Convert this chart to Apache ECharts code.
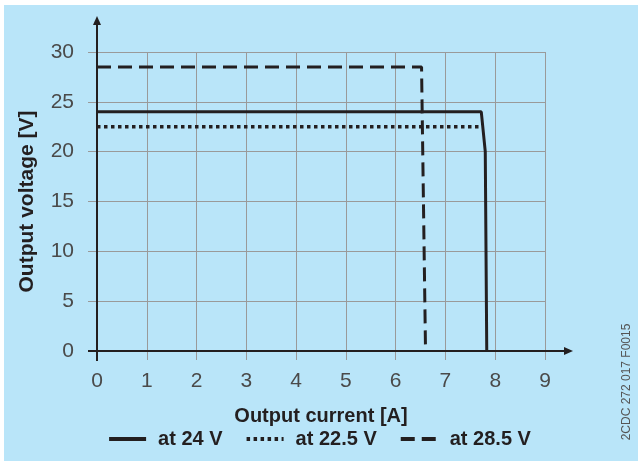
<!DOCTYPE html>
<html>
<head>
    <meta charset="utf-8" />
    <title>Output characteristic</title>
    <script src="https://cdn.jsdelivr.net/npm/echarts@6/dist/echarts.min.js"></script>
    <style>
        *{
            margin:0;
            padding:0;
        }
        body{
            background:#fff;
        }
        #main{
            width:638px;
            height:461px;
        }
    </style>
</head>
<body>
<div id="main"></div>
<script type="text/javascript">
    // data
    var seriesNames = ['at 24 V', 'at 22.5 V', 'at 28.5 V'];
    var line24 = [[0, 24], [7.72, 24], [7.8, 20], [7.83, 0]];
    var line225 = [[0, 22.5], [7.7, 22.5]];
    var line285 = [[0, 28.5], [6.52, 28.5], [6.6, 0]];
    var xTicks = [0, 9, 1];   // min, max, step
    var yTicks = [0, 30, 5];

    var ink = '#231f20';
    var gridGray = '#9a9a9a';
    var labelFont = 'Liberation Sans, Arial, sans-serif';

    var myChart = echarts.init(document.getElementById('main'));

    var option = {
        animation: false,
        backgroundColor: '#fff',
        grid: {left: 97, right: 93, top: 52, bottom: 110},
        legend: {
            bottom: 7,
            left: 'center',
            itemWidth: 37,
            itemHeight: 14,
            itemGap: 22,
            data: seriesNames,
            itemStyle: {opacity: 0},
            lineStyle: {width: 4},
            textStyle: {
                fontFamily: labelFont,
                fontSize: 20,
                fontWeight: 'bold',
                color: ink,
                padding: [0, 0, 0, 7]
            }
        },
        xAxis: {
            type: 'value',
            min: xTicks[0],
            max: xTicks[1],
            interval: xTicks[2],
            name: 'Output current [A]',
            nameLocation: 'middle',
            nameGap: 55,
            nameTextStyle: {fontFamily: labelFont, fontSize: 20, fontWeight: 'bold', color: ink},
            axisLine: {show: false},
            axisTick: {show: true, length: 9, lineStyle: {color: gridGray, width: 1}},
            axisLabel: {margin: 20, fontFamily: labelFont, fontSize: 21, color: '#4a4a4a'},
            splitLine: {show: true, lineStyle: {color: gridGray, width: 1}}
        },
        yAxis: {
            type: 'value',
            min: yTicks[0],
            max: yTicks[1],
            interval: yTicks[2],
            name: 'Output voltage [V]',
            nameLocation: 'middle',
            nameGap: 59,
            nameTextStyle: {fontFamily: labelFont, fontSize: 21, fontWeight: 'bold', color: ink},
            axisLine: {show: false},
            axisTick: {show: true, length: 9, lineStyle: {color: gridGray, width: 1}},
            axisLabel: {margin: 23, fontFamily: labelFont, fontSize: 21, color: '#4a4a4a'},
            splitLine: {show: true, lineStyle: {color: gridGray, width: 1}}
        },
        series: [{
            name: seriesNames[0],
            type: 'line',
            symbol: 'none',
            z: 4,
            lineStyle: {color: ink, width: 3, type: 'solid'},
            itemStyle: {color: ink},
            data: line24
        }, {
            name: seriesNames[1],
            type: 'line',
            symbol: 'none',
            z: 3,
            lineStyle: {color: ink, width: 3.5, type: [3.5, 3.5]},
            itemStyle: {color: ink},
            data: line225
        }, {
            name: seriesNames[2],
            type: 'line',
            symbol: 'none',
            z: 3,
            lineStyle: {color: ink, width: 3, type: [14, 7]},
            itemStyle: {color: ink},
            data: line285
        }]
    };

    myChart.setOption(option);

    // background panel, axis lines with arrows and the drawing code
    var o = myChart.convertToPixel({gridIndex: 0}, [xTicks[0], yTicks[0]]);
    var e = myChart.convertToPixel({gridIndex: 0}, [xTicks[1], yTicks[1]]);
    var xTip = e[0] + 28, yTip = e[1] - 36;
    myChart.setOption({
        graphic: [{
            type: 'rect',
            z: -10,
            silent: true,
            shape: {x: 4, y: 5, width: 640, height: 460},
            style: {fill: '#b9e5f9'}
        }, {
            type: 'line',
            z: 10,
            shape: {x1: o[0] - 9, y1: o[1], x2: xTip - 6, y2: o[1]},
            style: {stroke: ink, lineWidth: 2}
        }, {
            type: 'polygon',
            z: 10,
            shape: {points: [[xTip, o[1]], [xTip - 9, o[1] - 4], [xTip - 9, o[1] + 4]]},
            style: {fill: ink}
        }, {
            type: 'line',
            z: 10,
            shape: {x1: o[0], y1: o[1] + 10, x2: o[0], y2: yTip + 6},
            style: {stroke: ink, lineWidth: 2}
        }, {
            type: 'polygon',
            z: 10,
            shape: {points: [[o[0], yTip], [o[0] - 4, yTip + 9], [o[0] + 4, yTip + 9]]},
            style: {fill: ink}
        }, {
            type: 'text',
            z: 10,
            x: 627,
            y: 382,
            rotation: Math.PI / 2,
            style: {
                text: '2CDC 272 017 F0015',
                fontFamily: labelFont,
                fontSize: 12,
                fill: '#555',
                align: 'center',
                verticalAlign: 'middle'
            }
        }]
    });

    window.onresize = myChart.resize;
</script>
</body>
</html>
